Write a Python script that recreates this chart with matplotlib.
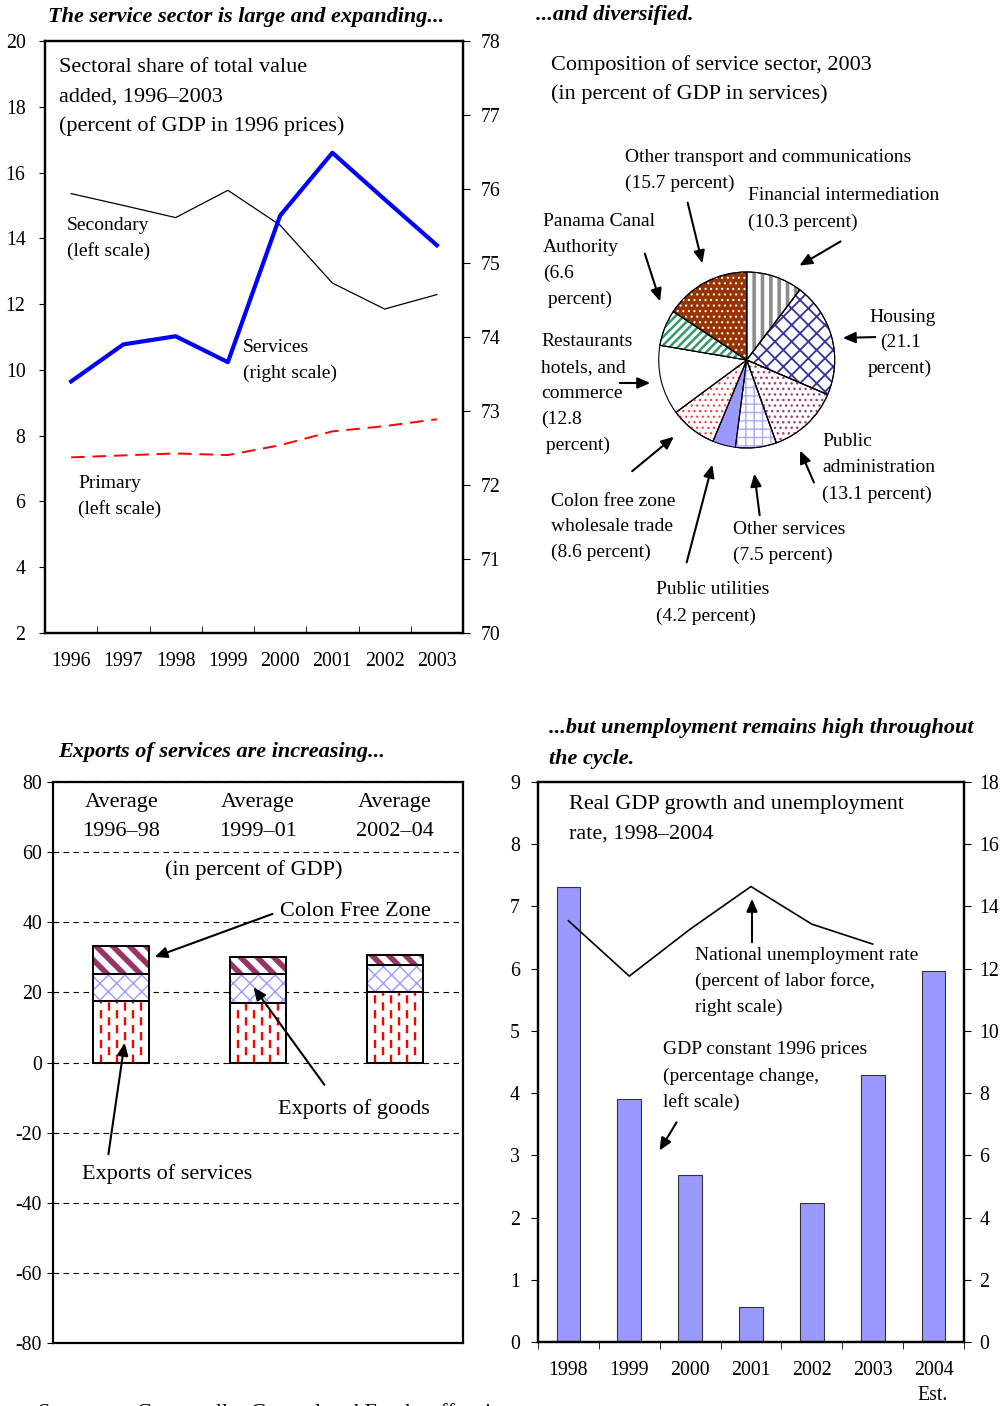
import matplotlib
matplotlib.use('Agg')
import matplotlib.pyplot as plt
import numpy as np

plt.rcParams['font.family'] = ['Liberation Serif', 'DejaVu Serif']
plt.rcParams['font.size'] = 14
plt.rcParams['axes.linewidth'] = 1.6
plt.rcParams['axes.unicode_minus'] = False

# %% data
years_va = ['1996', '1997', '1998', '1999', '2000', '2001', '2002', '2003']
secondary = [15.36, 15.0, 14.63, 15.46, 14.40, 12.64, 11.85, 12.29]
primary = [7.34, 7.40, 7.46, 7.41, 7.71, 8.13, 8.29, 8.50]
services = [73.40, 73.90, 74.01, 73.66, 75.64, 76.49, 75.86, 75.24]

pie_names = ['Financial intermediation', 'Housing', 'Public administration',
             'Other services', 'Public utilities', 'Colon free zone',
             'Restaurants', 'Panama Canal', 'Other transport']
pie_shares = [10.3, 21.1, 13.1, 7.5, 4.2, 8.6, 12.8, 6.6, 15.7]

periods = ['Average\n1996\u201398', 'Average\n1999\u201301', 'Average\n2002\u201304']
exp_services = [17.4, 17.1, 20.0]
exp_goods = [7.8, 8.2, 7.8]
exp_cfz = [7.9, 4.9, 2.9]

years_gdp = ['1998', '1999', '2000', '2001', '2002', '2003', '2004']
gdp_growth = [7.32, 3.90, 2.69, 0.57, 2.23, 4.29, 5.97]
unemployment = [13.54, 11.76, 13.27, 14.64, 13.43, 12.79]

W, H = 1002, 1406
f = plt.figure(figsize=(W / 100, H / 100), dpi=100)

TICK = 14.3
NOTE = 14
HEAD = 16
BIG = 16


def px(x, y):
    return x / W, 1 - y / H


def box(x0, y0, x1, y1):
    return [x0 / W, 1 - y1 / H, (x1 - x0) / W, (y1 - y0) / H]


def lines(x, y, txt, dy=25.5, size=NOTE, **kw):
    for i, t in enumerate(txt.split('\n')):
        f.text(*px(x, y + i * dy), t, fontsize=size, va='center', ha='left', **kw)


def arrow(x0, y0, x1, y1):
    f.add_artist(matplotlib.patches.FancyArrowPatch(
        px(x0, y0), px(x1, y1), transform=f.transFigure,
        arrowstyle='-|>,head_length=5,head_width=2.2', mutation_scale=1.5,
        color='k', lw=1.5))


def title(x, y, t):
    f.text(*px(x, y), t, fontsize=HEAD, fontweight='bold', fontstyle='italic',
           va='center', ha='left')


# %% value added shares
ax1 = f.add_axes(box(45, 41, 463, 633))
ax1b = ax1.twinx()
xv = np.arange(len(years_va))
ax1.plot(xv, secondary, color='k', lw=0.9)
ax1.plot(xv, primary, color='#ff0000', lw=1.4, dashes=(7, 4))
ax1b.plot(xv, services, color='#0000ff', lw=3)
ax1.set_xlim(-0.5, len(years_va) - 0.5)
ax1.set_ylim(2, 20)
ax1b.set_ylim(70, 78)
ax1.set_yticks(np.arange(2, 21, 2))
ax1b.set_yticks(np.arange(70, 79, 1))
ax1.set_xticks(xv, years_va)
ax1.set_xticks(xv[:-1] + 0.5, minor=True)
ax1.tick_params(axis='x', which='major', length=0, pad=14)
ax1.tick_params(axis='x', which='minor', direction='in', length=5)
ax1.tick_params(axis='y', length=4, pad=10)
ax1b.tick_params(axis='y', length=5, pad=8)
for a in (ax1, ax1b):
    a.tick_params(labelsize=TICK)

title(48, 17, 'The service sector is large and expanding...')
lines(59, 68, 'Sectoral share of total value\nadded, 1996\u20132003\n(percent of GDP in 1996 prices)',
      dy=29, size=BIG)
lines(67, 226, 'Secondary\n(left scale)', dy=25)
lines(243, 348, 'Services\n(right scale)', dy=25)
lines(78, 483, 'Primary\n(left scale)', dy=26)

# %% composition of services
title(536, 15, '...and diversified.')
ax2 = f.add_axes(box(543, 47, 947, 637))
r_px = 88
cx, cy = 746.7 - 543, 360 - 47
bw, bh = 404, 590
ax2.set_xticks([])
ax2.set_yticks([])
for s in ax2.spines.values():
    s.set_linewidth(3)

pie_face = ['white', 'white', 'white', 'white', '#9999ff', 'white', 'white', 'white', '#993300']
pie_hatch = ['||', 'xx', '...', '++', None, '...', None, '////', '...']
pie_hcol = ['#8c8c8c', '#333399', '#a0406e', '#aaaaff', None, '#ff3333', None, '#339966', 'white']
pie_hlw = [2.6, 1.3, 1.0, 1.0, 1.0, 0.8, 1.0, 1.8, 0.8]
wedges, _ = ax2.pie(pie_shares, startangle=90, counterclock=False, radius=1,
                    colors=pie_face, wedgeprops=dict(lw=0.8, edgecolor='k'))
for w, h, hc, hl in zip(wedges, pie_hatch, pie_hcol, pie_hlw):
    if h is None:
        continue
    with plt.rc_context({'hatch.linewidth': hl}):
        hw = matplotlib.patches.Wedge(w.center, w.r, w.theta1, w.theta2,
                                      facecolor='none', edgecolor=hc, hatch=h, lw=0)
    ax2.add_patch(hw)
    ax2.add_patch(matplotlib.patches.Wedge(w.center, w.r, w.theta1, w.theta2,
                                           facecolor='none', edgecolor='k', lw=0.8))
ax2.set_xlim(-cx / r_px, (bw - cx) / r_px)
ax2.set_ylim(-(bh - cy) / r_px, cy / r_px)
ax2.set_aspect('auto')

lines(551, 65, 'Composition of service sector, 2003\n(in percent of GDP in services)',
      dy=29, size=BIG)
lines(625, 157, 'Other transport and communications\n(15.7 percent)', dy=26)
lines(748, 196, 'Financial intermediation\n(10.3 percent)', dy=26)
lines(543, 222, 'Panama Canal\nAuthority\n(6.6\n percent)', dy=25.7)
lines(869, 317, 'Housing', dy=26)
lines(880, 342, '(21.1', dy=26)
lines(868, 368, 'percent)', dy=26)
lines(541, 342, 'Restaurants\nhotels, and\ncommerce\n(12.8\n percent)', dy=25.8)
lines(822, 442, 'Public\nadministration\n(13.1 percent)', dy=26)
lines(551, 501, 'Colon free zone\nwholesale trade\n(8.6 percent)', dy=25.5)
lines(733, 530, 'Other services\n(7.5 percent)', dy=25.5)
lines(656, 590, 'Public utilities\n(4.2 percent)', dy=26)
arrow(687, 200, 703, 266)
arrow(843, 240, 797, 267)
arrow(644, 251, 661, 304)
arrow(878, 337, 840, 338)
arrow(617, 383, 653, 383)
arrow(630, 473, 676, 435)
arrow(686, 565, 713, 462)
arrow(760, 518, 754, 471)
arrow(815, 485, 799, 448)

# %% exports
title(58, 752, 'Exports of services are increasing...')
ax3 = f.add_axes(box(53, 782, 463, 1343))
xp = np.arange(len(periods))
bwid = 0.41
b_s = ax3.bar(xp, exp_services, bwid, color='white', edgecolor='k', lw=1.4, zorder=3)
with plt.rc_context({'hatch.linewidth': 1.0}):
    ax3.bar(xp, exp_goods, bwid, bottom=exp_services, color='white',
            edgecolor='#9999ff', hatch='xx', lw=0, zorder=3)
bot2 = np.add(exp_services, exp_goods)
ax3.bar(xp, exp_goods, bwid, bottom=exp_services, color='none', edgecolor='k', lw=1.4, zorder=4)
with plt.rc_context({'hatch.linewidth': 4.0}):
    ax3.bar(xp, exp_cfz, bwid, bottom=bot2, color='white',
            edgecolor='#993366', hatch='\\\\', lw=0, zorder=3)
ax3.bar(xp, exp_cfz, bwid, bottom=bot2, color='none', edgecolor='k', lw=1.4, zorder=4)
# red dashed strokes inside the services segment, staggered column to column
for p in b_s:
    xs = np.linspace(p.get_x(), p.get_x() + p.get_width(), 8)[1:-1]
    for k, xk in enumerate(xs):
        ln = ax3.vlines([xk], 0, p.get_height(), colors='#ff0000', lw=1.7,
                        linestyles=[(3.0 * (k % 2), (3.5, 2.8))], zorder=3.5)
        ln.set_clip_path(p)
ax3.bar(xp, exp_services, bwid, color='none', edgecolor='k', lw=1.4, zorder=4)
ax3.set_xlim(-0.5, len(periods) - 0.5)
ax3.set_ylim(-80, 80)
ax3.set_yticks(np.arange(-80, 81, 20))
ax3.set_xticks([])
ax3.tick_params(axis='y', length=4, pad=4, labelsize=TICK)
ax3.grid(axis='y', color='k', lw=0.8, dashes=(5, 4))
ax3.set_axisbelow(True)
for i, t in enumerate(periods):
    for j, s in enumerate(t.split('\n')):
        ax3.text(i, 1 - (21 + j * 28) / 561, s, transform=ax3.get_xaxis_transform(),
                 fontsize=BIG, ha='center', va='center')
f.text(*px(254, 870), '(in percent of GDP)', fontsize=BIG, ha='center', va='center')
lines(280, 911, 'Colon Free Zone', size=BIG)
lines(278, 1109, 'Exports of goods', size=BIG)
lines(82, 1174, 'Exports of services', size=BIG)
arrow(275, 913, 152, 958)
arrow(326, 1087, 252, 985)
arrow(108, 1157, 125, 1040)

# %% growth and unemployment
title(549, 728, '...but unemployment remains high throughout')
title(549, 759, 'the cycle.')
ax4 = f.add_axes(box(538, 782, 964, 1342))
ax4b = ax4.twinx()
xg = np.arange(len(years_gdp))
ax4.bar(xg, gdp_growth, 0.39, color='#9999ff', edgecolor='#333333', lw=0.8)
ax4b.plot(xg[:len(unemployment)], unemployment, color='k', lw=1.2)
ax4.set_xlim(-0.5, len(years_gdp) - 0.5)
ax4.set_ylim(0, 9)
ax4b.set_ylim(0, 18)
ax4.set_yticks(np.arange(0, 10, 1))
ax4b.set_yticks(np.arange(0, 19, 2))
ax4.set_xticks(xg, years_gdp)
ax4.set_xticks(np.arange(-0.5, len(years_gdp), 1), minor=True)
ax4.tick_params(axis='x', which='major', length=0, pad=14, labelsize=TICK)
ax4.tick_params(axis='x', which='minor', direction='out', length=5)
ax4.tick_params(axis='y', length=5, pad=8, labelsize=TICK)
ax4b.tick_params(axis='y', length=5, pad=6, labelsize=TICK)
f.text(*px(933, 1396), 'Est.', fontsize=TICK, ha='center', va='center')
lines(569, 805, 'Real GDP growth and unemployment\nrate, 1998\u20132004', dy=29, size=BIG)
lines(695, 956, 'National unemployment rate\n(percent of labor force,\nright scale)', dy=25.5)
lines(663, 1050, 'GDP constant 1996 prices\n(percentage change,\nleft scale)', dy=26)
arrow(752, 945, 752, 896)
arrow(678, 1120, 658, 1153)

f.text(*px(38, 1413), 'Sources:    Comptroller General and Fund staff estimates.',
       fontsize=BIG, ha='left', va='center')

f.savefig('out.png', dpi=100)
